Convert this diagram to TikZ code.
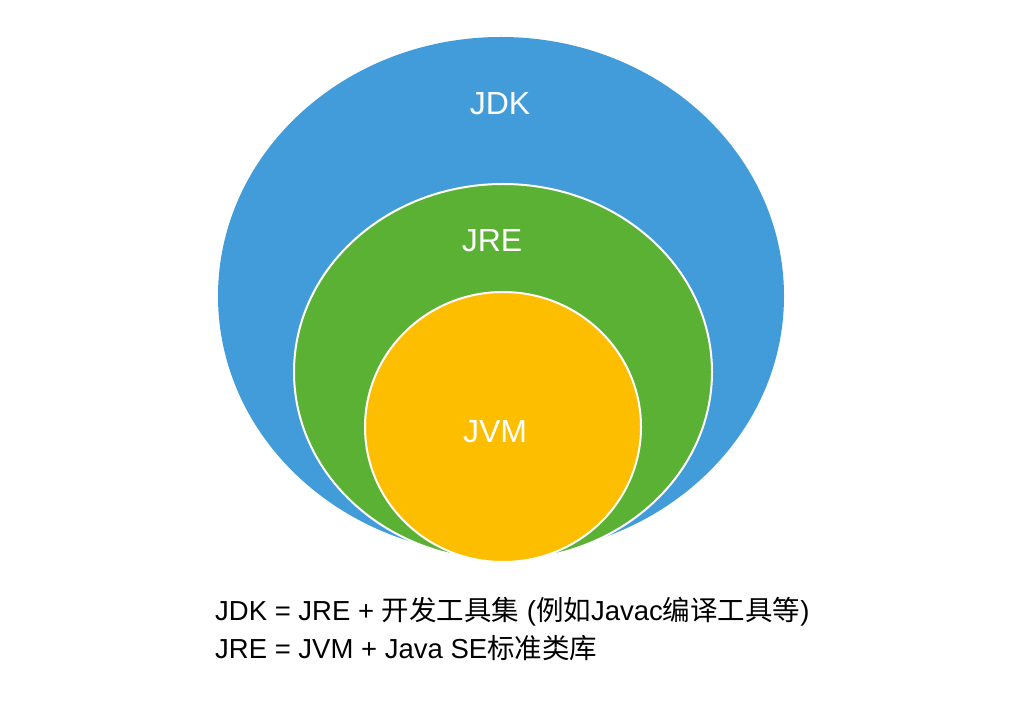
\documentclass[tikz,border=0pt]{standalone}
\usepackage{fontspec}
\setmainfont{Liberation Sans}
\newfontfamily\cjk{Noto Sans CJK SC}
\definecolor{jdkblue}{HTML}{429CD9}
\definecolor{jregreen}{HTML}{5BB133}
\definecolor{jvmyellow}{HTML}{FDBE00}
\begin{document}
\begin{tikzpicture}[x=1pt,y=1pt,
  lbl/.style={text=white,font=\fontsize{32}{32}\selectfont},
  captext/.style={text=black,font=\fontsize{27.5}{30}\selectfont,anchor=west,inner sep=0pt}]
\useasboundingbox (0,0) rectangle (1024,720);
\fill[jdkblue] (501,424) ellipse [x radius=283, y radius=259];
\filldraw[fill=jregreen,draw=white,line width=2pt] (503,348) ellipse [x radius=209, y radius=188];
\filldraw[fill=jvmyellow,draw=white,line width=2pt] (503,293) ellipse [x radius=138, y radius=135];
\node[lbl] (jdk) at (500,616) {JDK};
\node[lbl] (jre) at (492,479) {JRE};
\node[lbl] (jvm) at (495,288) {JVM};
\node[captext] (c1) at (215,108) {JDK = JRE + {\cjk 开发工具集} ({\cjk 例如}Javac{\cjk 编译工具等})};
\node[captext] (c2) at (215,72) {JRE = JVM + Java SE{\cjk 标准类库}};
\end{tikzpicture}
\end{document}
